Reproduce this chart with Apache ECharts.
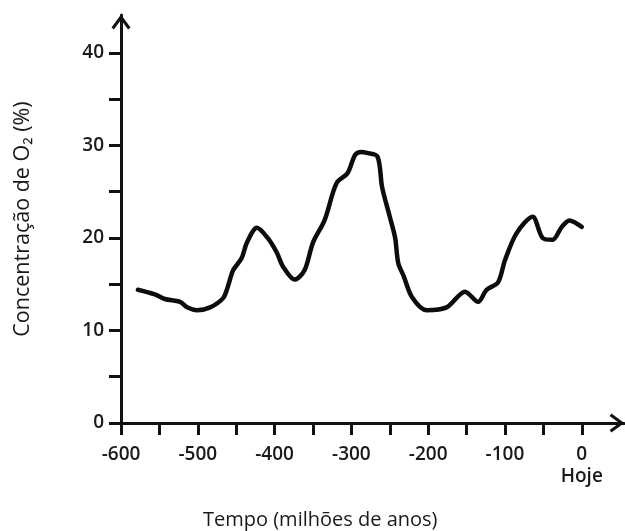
<!DOCTYPE html>
<html>
<head>
<meta charset="utf-8">
<script src="https://cdn.jsdelivr.net/npm/echarts@6/dist/echarts.min.js"></script>
<style>html,body{margin:0;padding:0;background:#fff}#c{width:625px;height:531px}</style>
</head>
<body>
<div id="c"></div>
<script>
// Time (million years ago) and O2 concentration (%)
var years = [-578,-556,-543,-523,-514,-501,-484,-467,-461,-454,-443,-436,-423,-409,-397,-389,-374,-361,-350,-335,-324,-318,-305,-295,-287,-280,-266,-260,-250,-243,-239,-232,-221,-202,-176,-152,-135,-124,-109,-100,-85,-64,-51,-38,-26,-16,0];
var o2 = [14.4,13.9,13.4,13.1,12.5,12.2,12.5,13.5,14.7,16.5,17.8,19.5,21.1,20.0,18.4,16.9,15.5,16.5,19.5,21.9,24.9,26.1,27.0,29.0,29.3,29.2,28.8,25.5,22.3,20.0,17.3,15.9,13.6,12.2,12.5,14.2,13.1,14.4,15.2,17.6,20.5,22.3,20.0,19.8,21.2,21.9,21.2];
var xTicks = [-600,-550,-500,-450,-400,-350,-300,-250,-200,-150,-100,-50,0];
var xLabels = [-600,-500,-400,-300,-200,-100,0];
var yTicks = [0,5,10,15,20,25,30,35,40];
var yLabels = [0,10,20,30,40];
var xTitle = 'Tempo (milhões de anos)';
var yTitle = 'Concentração de O₂ (%)';
var todayLabel = 'Hoje';

var chevron = 'path://M0,13 L9.5,0 L19,13 L16.57,14.77 L9.5,5.1 L2.43,14.77 Z';
var FONT = '"Open Sans", sans-serif';
var data = years.map(function (y, i) { return [y, o2[i]]; });

var chart = echarts.init(document.getElementById('c'), null, {renderer: 'canvas'});
chart.setOption({
  animation: false,
  backgroundColor: '#fff',
  title: {
    text: xTitle, left: 198, top: 505,
    textStyle: {fontFamily: FONT, fontSize: 20, fontWeight: 'normal', color: '#1a1a1a'}
  },
  grid: {left: 121, right: 1, top: 15, bottom: 108},
  xAxis: {
    type: 'value', min: -600, max: 55,
    splitLine: {show: false},
    axisLine: {show: true, onZero: false, lineStyle: {color: '#111', width: 3},
      symbol: ['none', chevron], symbolSize: [19, 15], symbolOffset: [0, -7]},
    axisTick: {show: true, customValues: xTicks, length: 12, lineStyle: {color: '#111', width: 3}},
    axisLabel: {
      customValues: xLabels, margin: 21, color: '#1a1a1a', fontFamily: FONT, fontSize: 19, fontWeight: 600, lineHeight: 22,
      formatter: function (v) { return v === 0 ? '0\n' + todayLabel : String(v); }
    }
  },
  yAxis: {
    type: 'value', min: 0, max: 44.1,
    splitLine: {show: false},
    name: yTitle, nameLocation: 'middle', nameGap: 87, nameRotate: 90,
    nameTextStyle: {fontFamily: FONT, fontSize: 21.5, color: '#1a1a1a'},
    axisLine: {show: true, onZero: false, lineStyle: {color: '#111', width: 3},
      symbol: ['none', chevron], symbolSize: [19, 15], symbolOffset: [0, -7]},
    axisTick: {show: true, customValues: yTicks, length: 12, lineStyle: {color: '#111', width: 3}},
    axisLabel: {customValues: yLabels, margin: 17, color: '#1a1a1a', fontFamily: FONT, fontSize: 19, fontWeight: 600}
  },
  series: [{
    type: 'line', data: data, showSymbol: false, smooth: 0.3,
    lineStyle: {color: '#0d0d0d', width: 4.5, cap: 'round', join: 'round'}
  }]
});
</script>
</body>
</html>
